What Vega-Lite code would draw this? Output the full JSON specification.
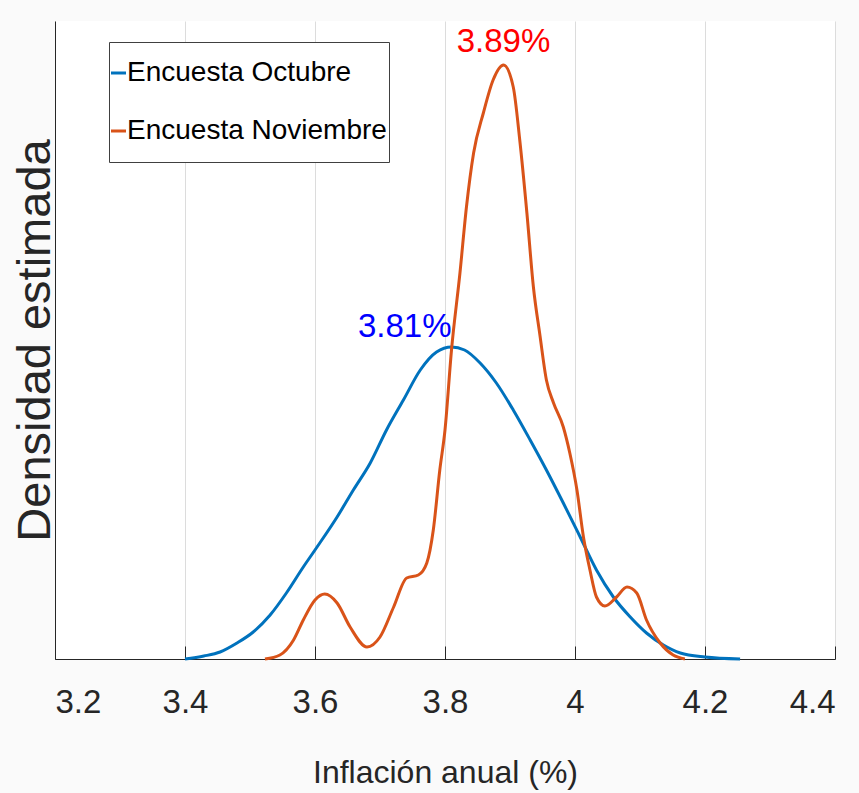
{
  "$schema": "https://vega.github.io/schema/vega-lite/v6.json",
  "width": 780,
  "height": 638,
  "autosize": "none",
  "padding": {"left": 55, "top": 21, "right": 24, "bottom": 134},
  "background": "#fafafa",
  "config": {
    "view": {"fill": "white", "stroke": null},
    "font": "Liberation Sans, Arial, sans-serif"
  },
  "layer": [
    {
      "data": {
        "values": [
          {"serie": "Encuesta Octubre", "x": 3.400, "d": 0.0},
          {"serie": "Encuesta Octubre", "x": 3.429, "d": 0.03},
          {"serie": "Encuesta Octubre", "x": 3.454, "d": 0.07},
          {"serie": "Encuesta Octubre", "x": 3.480, "d": 0.16},
          {"serie": "Encuesta Octubre", "x": 3.505, "d": 0.27},
          {"serie": "Encuesta Octubre", "x": 3.531, "d": 0.44},
          {"serie": "Encuesta Octubre", "x": 3.556, "d": 0.66},
          {"serie": "Encuesta Octubre", "x": 3.582, "d": 0.92},
          {"serie": "Encuesta Octubre", "x": 3.600, "d": 1.09},
          {"serie": "Encuesta Octubre", "x": 3.634, "d": 1.42},
          {"serie": "Encuesta Octubre", "x": 3.659, "d": 1.69},
          {"serie": "Encuesta Octubre", "x": 3.685, "d": 1.96},
          {"serie": "Encuesta Octubre", "x": 3.710, "d": 2.29},
          {"serie": "Encuesta Octubre", "x": 3.736, "d": 2.59},
          {"serie": "Encuesta Octubre", "x": 3.762, "d": 2.89},
          {"serie": "Encuesta Octubre", "x": 3.787, "d": 3.07},
          {"serie": "Encuesta Octubre", "x": 3.810, "d": 3.12},
          {"serie": "Encuesta Octubre", "x": 3.830, "d": 3.09},
          {"serie": "Encuesta Octubre", "x": 3.854, "d": 2.96},
          {"serie": "Encuesta Octubre", "x": 3.879, "d": 2.76},
          {"serie": "Encuesta Octubre", "x": 3.905, "d": 2.49},
          {"serie": "Encuesta Octubre", "x": 3.931, "d": 2.19},
          {"serie": "Encuesta Octubre", "x": 3.956, "d": 1.89},
          {"serie": "Encuesta Octubre", "x": 3.982, "d": 1.56},
          {"serie": "Encuesta Octubre", "x": 4.008, "d": 1.22},
          {"serie": "Encuesta Octubre", "x": 4.033, "d": 0.89},
          {"serie": "Encuesta Octubre", "x": 4.059, "d": 0.62},
          {"serie": "Encuesta Octubre", "x": 4.085, "d": 0.42},
          {"serie": "Encuesta Octubre", "x": 4.110, "d": 0.26},
          {"serie": "Encuesta Octubre", "x": 4.136, "d": 0.14},
          {"serie": "Encuesta Octubre", "x": 4.162, "d": 0.06},
          {"serie": "Encuesta Octubre", "x": 4.200, "d": 0.02},
          {"serie": "Encuesta Octubre", "x": 4.254, "d": 0.0},
          {"serie": "Encuesta Noviembre", "x": 3.523, "d": 0.0},
          {"serie": "Encuesta Noviembre", "x": 3.546, "d": 0.04},
          {"serie": "Encuesta Noviembre", "x": 3.567, "d": 0.19},
          {"serie": "Encuesta Noviembre", "x": 3.582, "d": 0.39},
          {"serie": "Encuesta Noviembre", "x": 3.600, "d": 0.59},
          {"serie": "Encuesta Noviembre", "x": 3.615, "d": 0.65},
          {"serie": "Encuesta Noviembre", "x": 3.634, "d": 0.56},
          {"serie": "Encuesta Noviembre", "x": 3.654, "d": 0.32},
          {"serie": "Encuesta Noviembre", "x": 3.680, "d": 0.12},
          {"serie": "Encuesta Noviembre", "x": 3.700, "d": 0.22},
          {"serie": "Encuesta Noviembre", "x": 3.721, "d": 0.52},
          {"serie": "Encuesta Noviembre", "x": 3.741, "d": 0.81},
          {"serie": "Encuesta Noviembre", "x": 3.759, "d": 0.84},
          {"serie": "Encuesta Noviembre", "x": 3.772, "d": 0.96},
          {"serie": "Encuesta Noviembre", "x": 3.782, "d": 1.29},
          {"serie": "Encuesta Noviembre", "x": 3.792, "d": 1.89},
          {"serie": "Encuesta Noviembre", "x": 3.800, "d": 2.29},
          {"serie": "Encuesta Noviembre", "x": 3.810, "d": 3.09},
          {"serie": "Encuesta Noviembre", "x": 3.823, "d": 3.86},
          {"serie": "Encuesta Noviembre", "x": 3.833, "d": 4.52},
          {"serie": "Encuesta Noviembre", "x": 3.844, "d": 5.06},
          {"serie": "Encuesta Noviembre", "x": 3.859, "d": 5.46},
          {"serie": "Encuesta Noviembre", "x": 3.874, "d": 5.79},
          {"serie": "Encuesta Noviembre", "x": 3.890, "d": 5.94},
          {"serie": "Encuesta Noviembre", "x": 3.905, "d": 5.72},
          {"serie": "Encuesta Noviembre", "x": 3.915, "d": 5.19},
          {"serie": "Encuesta Noviembre", "x": 3.926, "d": 4.46},
          {"serie": "Encuesta Noviembre", "x": 3.936, "d": 3.72},
          {"serie": "Encuesta Noviembre", "x": 3.946, "d": 3.24},
          {"serie": "Encuesta Noviembre", "x": 3.956, "d": 2.79},
          {"serie": "Encuesta Noviembre", "x": 3.967, "d": 2.56},
          {"serie": "Encuesta Noviembre", "x": 3.982, "d": 2.32},
          {"serie": "Encuesta Noviembre", "x": 3.992, "d": 2.06},
          {"serie": "Encuesta Noviembre", "x": 4.003, "d": 1.69},
          {"serie": "Encuesta Noviembre", "x": 4.013, "d": 1.22},
          {"serie": "Encuesta Noviembre", "x": 4.023, "d": 0.89},
          {"serie": "Encuesta Noviembre", "x": 4.033, "d": 0.62},
          {"serie": "Encuesta Noviembre", "x": 4.046, "d": 0.53},
          {"serie": "Encuesta Noviembre", "x": 4.064, "d": 0.62},
          {"serie": "Encuesta Noviembre", "x": 4.080, "d": 0.72},
          {"serie": "Encuesta Noviembre", "x": 4.095, "d": 0.66},
          {"serie": "Encuesta Noviembre", "x": 4.110, "d": 0.39},
          {"serie": "Encuesta Noviembre", "x": 4.131, "d": 0.16},
          {"serie": "Encuesta Noviembre", "x": 4.151, "d": 0.04},
          {"serie": "Encuesta Noviembre", "x": 4.169, "d": 0.0}
        ]
      },
      "mark": {"type": "line", "interpolate": "monotone", "strokeWidth": 3},
      "encoding": {
        "x": {
          "field": "x", "type": "quantitative",
          "scale": {"domain": [3.2, 4.4], "nice": false},
          "axis": {
            "values": [3.2, 3.4, 3.6, 3.8, 4.0, 4.2, 4.4],
            "format": "~g",
            "title": "Inflación anual (%)",
            "grid": true, "gridColor": "#dcdcdc", "gridWidth": 1,
            "domainColor": "#262626", "domainWidth": 1,
            "tickColor": "#262626", "tickSize": -13, "tickWidth": 1,
            "labelFontSize": 33, "labelColor": "#262626",
            "labelPadding": 40,
            "titleFontSize": 32, "titleColor": "#262626", "titleFontWeight": "normal",
            "titleBaseline": "alphabetic", "titleY": 123
          }
        },
        "y": {
          "field": "d", "type": "quantitative",
          "scale": {"domain": [0, 6.38], "nice": false},
          "axis": {
            "title": "Densidad estimada",
            "labels": false, "ticks": false, "grid": false,
            "domainColor": "#262626", "domainWidth": 1,
            "titleFontSize": 47,
            "titleFontWeight": "normal", "titleColor": "#262626",
            "titleBaseline": "alphabetic",
            "titlePadding": 6
          }
        },
        "color": {
          "field": "serie", "type": "nominal",
          "scale": {"domain": ["Encuesta Octubre", "Encuesta Noviembre"], "range": ["#0072BD", "#D95319"]},
          "legend": {
            "title": null,
            "orient": "none", "legendX": 54, "legendY": 21,
            "fillColor": "white", "strokeColor": "#404040",
            "padding": 2,
            "symbolType": "stroke", "symbolSize": 256, "symbolStrokeWidth": 3,
            "symbolOffset": -7,
            "labelFontSize": 28, "labelColor": "black", "labelOffset": -5,
            "labelLimit": 400,
            "clipHeight": 58, "rowPadding": -1
          }
        }
      }
    },
    {
      "data": {"values": [{"label": "3.81%", "x": 3.81, "d": 3.12}]},
      "mark": {"type": "text", "align": "right", "baseline": "alphabetic", "dy": -10, "fontSize": 33, "color": "#0000ff"},
      "encoding": {
        "x": {"field": "x", "type": "quantitative"},
        "y": {"field": "d", "type": "quantitative"},
        "text": {"field": "label"}
      }
    },
    {
      "data": {"values": [{"label": "3.89%", "x": 3.89, "d": 5.94}]},
      "mark": {"type": "text", "align": "center", "baseline": "alphabetic", "dy": -13, "fontSize": 33, "color": "#ff0000"},
      "encoding": {
        "x": {"field": "x", "type": "quantitative"},
        "y": {"field": "d", "type": "quantitative"},
        "text": {"field": "label"}
      }
    }
  ]
}
